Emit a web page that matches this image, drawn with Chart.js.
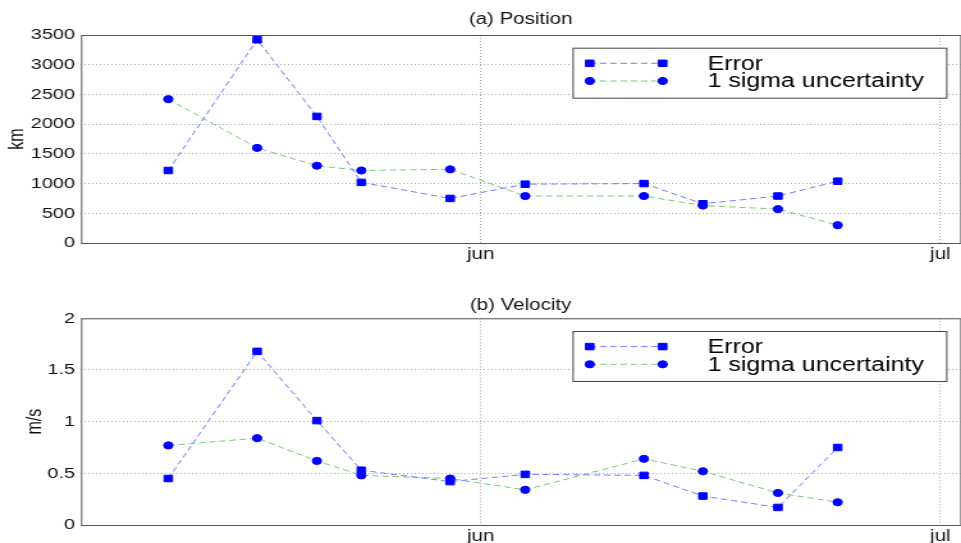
<!DOCTYPE html>
<html>
<head>
<meta charset="utf-8">
<script src="https://cdn.jsdelivr.net/npm/chart.js@4"></script>
<style>
  html, body { margin: 0; padding: 0; background: #fff; overflow: hidden; }
  body { width: 961px; height: 543px; position: relative; }
  .panel { position: absolute; left: 0; width: 756px; transform-origin: 0 0; transform: scaleX(1.2796); }
  #p1 { top: 0; height: 270px; }
  #p2 { top: 270px; height: 279px; }
</style>
</head>
<body>
<div class="panel" id="p1"><canvas id="posChart"></canvas></div>
<div class="panel" id="p2"><canvas id="velChart"></canvas></div>
<script>
(function () {
  "use strict";

  // days counted from 1 May (jun = 32, jul = 62)
  var days = [11.6, 17.4, 21.3, 24.2, 30.0, 34.9, 42.65, 46.5, 51.4, 55.3];
  var tickDays = [32, 62];
  var tickLabels = ["jun", "jul"];

  var posError = [1220, 3420, 2130, 1020, 750, 990, 1000, 660, 790, 1040];
  var posSigma = [2420, 1600, 1300, 1220, 1240, 790, 790, 630, 570, 300];
  var velError = [0.45, 1.68, 1.01, 0.53, 0.42, 0.49, 0.48, 0.28, 0.17, 0.75];
  var velSigma = [0.77, 0.84, 0.62, 0.48, 0.45, 0.34, 0.64, 0.52, 0.31, 0.22];

  var seriesNames = ["Error", "1 sigma uncertainty"];
  var FONT = "'Liberation Sans', Arial, Helvetica, sans-serif";

  function points(ys) {
    var out = [];
    for (var i = 0; i < ys.length; i++) out.push({ x: days[i], y: ys[i] });
    return out;
  }

  // box round the plot, like matlab "box on"
  var boxPlugin = {
    id: "boxPlugin",
    afterDraw: function (chart) {
      var a = chart.chartArea;
      var ctx = chart.ctx;
      ctx.save();
      ctx.strokeStyle = "#555";
      ctx.lineWidth = 1;
      ctx.strokeRect(a.left + 0.5, a.top + 0.5, a.right - a.left, a.bottom - a.top);
      ctx.restore();
    }
  };

  // legend box inside the plot, line sample with a marker at both ends
  var legendPlugin = {
    id: "boxLegend",
    afterDraw: function (chart) {
      var a = chart.chartArea;
      var ctx = chart.ctx;
      var w = 292, h = 50;
      var x0 = a.right - 11 - w;
      var y0 = a.top + 12.7;
      ctx.save();
      ctx.fillStyle = "#fff";
      ctx.fillRect(x0, y0, w, h);
      ctx.strokeStyle = "#444";
      ctx.lineWidth = 1;
      ctx.strokeRect(x0 + 0.5, y0 + 0.5, w, h);
      var rows = [15.6, 33.3];
      chart.data.datasets.forEach(function (ds, i) {
        var y = y0 + rows[i];
        var xa = x0 + 13.5, xb = x0 + 70.5;
        ctx.save();
        ctx.strokeStyle = ds.borderColor;
        ctx.lineWidth = ds.borderWidth;
        ctx.setLineDash(ds.borderDash);
        ctx.beginPath();
        ctx.moveTo(xa, y);
        ctx.lineTo(xb, y);
        ctx.stroke();
        ctx.restore();
        [xa, xb].forEach(function (px) {
          ctx.fillStyle = ds.pointBackgroundColor;
          ctx.strokeStyle = ds.pointBorderColor;
          ctx.lineWidth = 1;
          Chart.helpers.drawPoint(ctx, { pointStyle: ds.pointStyle, radius: ds.pointRadius, rotation: 0, borderWidth: 1 }, px, y);
        });
        ctx.fillStyle = "#000";
        ctx.font = "19.5px " + FONT;
        ctx.textBaseline = "middle";
        ctx.textAlign = "left";
        ctx.fillText(ds.label, x0 + 105.5, y + 1);
      });
      ctx.restore();
    }
  };

  function makeChart(id, title, yTitle, errVals, sigVals, yMax, yStep, opts) {
    return new Chart(document.getElementById(id), {
      type: "line",
      data: {
        datasets: [
          {
            label: seriesNames[0],
            data: points(errVals),
            borderColor: "#7878ff",
            borderWidth: 1,
            borderDash: [5, 3],
            pointStyle: "rect",
            pointRadius: 4.6,
            pointBackgroundColor: "#0000ff",
            pointBorderColor: "#0000ff",
            pointBorderWidth: 1,
            tension: 0,
            fill: false
          },
          {
            label: seriesNames[1],
            data: points(sigVals),
            borderColor: "#78c878",
            borderWidth: 1,
            borderDash: [5, 3],
            pointStyle: "circle",
            pointRadius: 3.6,
            pointBackgroundColor: "#0000ff",
            pointBorderColor: "#0000ff",
            pointBorderWidth: 1,
            tension: 0,
            fill: false
          }
        ]
      },
      options: {
        responsive: true,
        maintainAspectRatio: false,
        animation: false,
        layout: { padding: { left: 0, right: 0, top: 0, bottom: opts.bottomPad } },
        plugins: {
          legend: { display: false },
          tooltip: { enabled: false },
          title: {
            display: true,
            text: title,
            fullSize: false,
            color: "#111",
            font: { family: FONT, size: 16, weight: "normal" },
            padding: opts.titlePad
          }
        },
        scales: {
          x: {
            type: "linear",
            min: 5.9,
            max: 63.3,
            afterBuildTicks: function (scale) {
              scale.ticks = tickDays.map(function (d) { return { value: d }; });
            },
            afterFit: function (scale) {
              scale.paddingLeft = 0;
              scale.paddingRight = 0;
            },
            ticks: {
              color: "#111",
              font: { family: FONT, size: 16, lineHeight: 1 },
              padding: 4,
              maxRotation: 0,
              callback: function (v) {
                var k = tickDays.indexOf(v);
                return k < 0 ? "" : tickLabels[k];
              }
            },
            grid: { color: "#aaa", lineWidth: 1, drawTicks: false },
            border: { display: false, dash: [1, 2] }
          },
          y: {
            min: 0,
            max: yMax,
            afterFit: function (scale) { scale.width = 63.3; },
            ticks: {
              stepSize: yStep,
              color: "#111",
              font: { family: FONT, size: 15.5 },
              padding: 4.7,
              callback: function (v) { return String(v); }
            },
            grid: { color: "#aaa", lineWidth: 1, drawTicks: false },
            border: { display: false, dash: [1, 2] },
            title: {
              display: true,
              text: yTitle,
              color: "#111",
              font: { family: FONT, size: 16 },
              padding: { top: opts.yTitlePad, bottom: 0 }
            }
          }
        }
      },
      plugins: [boxPlugin, legendPlugin]
    });
  }

  makeChart("posChart", "(a) Position", "km", posError, posSigma, 3500, 500,
    { bottomPad: 3, titlePad: { top: 10.4, bottom: 5.4 }, yTitlePad: 3.7 });
  makeChart("velChart", "(b) Velocity", "m/s", velError, velSigma, 2, 0.5,
    { bottomPad: 0, titlePad: { top: 26.4, bottom: 2.7 }, yTitlePad: 17.7 });
})();
</script>
</body>
</html>
